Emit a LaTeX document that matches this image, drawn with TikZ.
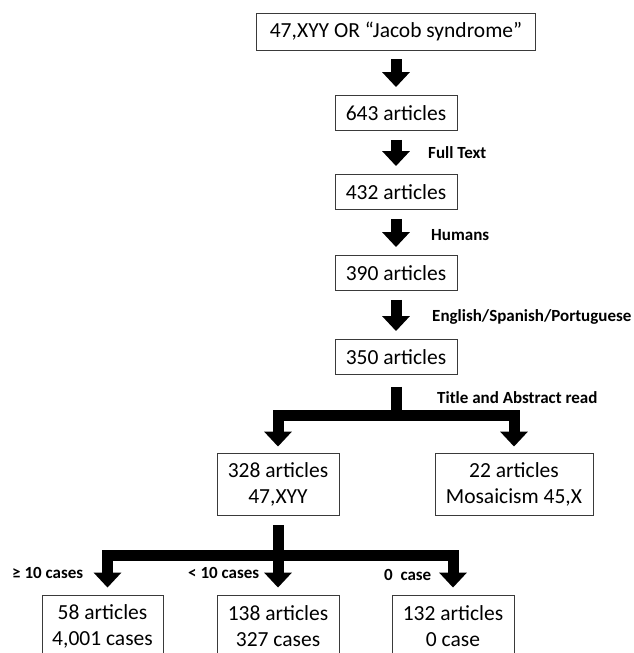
\documentclass[tikz,border=0pt]{standalone}
\usepackage{fontspec}
\setmainfont{Carlito}
\usetikzlibrary{arrows.meta}
\definecolor{Frame}{HTML}{3A3A3A}

\begin{document}
\begin{tikzpicture}[x=1pt,y=-1pt,
    box/.style={draw=Frame,line width=.9pt,minimum width=122pt,minimum height=35pt,inner sep=2pt,align=center,font=\fontsize{21.5}{26}\selectfont},
    tall/.style={box,minimum height=62pt},
    flow/.style={line width=11pt,-{Triangle[width=27pt,length=15pt]},shorten <=9pt,shorten >=8pt},
    trunk/.style={line width=11pt},
    lbl/.style={anchor=west,inner sep=0pt,font=\bfseries\fontsize{17}{20}\selectfont}]
  \useasboundingbox(0,0)rectangle(633,653);
  \node[box,minimum width=279pt,minimum height=37pt](b0)at(396,31.5){47,XYY OR “Jacob syndrome”};
  \node[box](b1)at(396,113){643 articles};
  \node[box](b2)at(396,192){432 articles};
  \node[box](b3)at(396,273){390 articles};
  \node[box](b4)at(396,357){350 articles};
  \node[tall](b5)at(278,484){328 articles\\47,XYY};
  \node[tall,minimum width=158pt](b6)at(514,484){22 articles\\Mosaicism 45,X};
  \node[tall,minimum width=121pt](b7)at(102.5,626){58 articles\\4,001 cases};
  \node[tall](b8)at(278,626){138 articles\\327 cases};
  \node[tall](b9)at(453,626){132 articles\\0 case};
  \draw[flow](b0)--(b1);
  \draw[flow](b1)--(b2);
  \draw[flow](b2)--(b3);
  \draw[flow](b3)--(b4);
  \node[lbl](lFull)at(428,153){Full Text};
  \node[lbl](lHum)at(431,235){Humans};
  \node[lbl](lLang)at(432,317){English/Spanish/Portuguese};
  \coordinate(j1)at(396,415);
  \draw[trunk,shorten <=12pt](b4)--(j1);
  \draw[flow,shorten <=0pt,shorten >=6pt](j1)-|(b5);
  \draw[flow,shorten <=0pt,shorten >=6pt](j1)-|(b6);
  \node[lbl](lTitle)at(437,398){Title and Abstract read};
  \coordinate(j2)at(278,555);
  \draw[trunk,shorten <=10pt](b5)--(j2);
  \draw[flow,shorten <=0pt,shorten >=7pt](j2)-|([xshift=5pt]b7.north);
  \draw[flow,shorten <=0pt,shorten >=7pt](j2)--(b8);
  \draw[flow,shorten <=0pt,shorten >=7pt](j2)-|(b9);
  \node[lbl](lGe)at(12,573){≥ 10 cases};
  \node[lbl](lLt)at(188,573){< 10 cases};
  \node[lbl](lZero)at(384,575){0~ case};
\end{tikzpicture}
\end{document}
